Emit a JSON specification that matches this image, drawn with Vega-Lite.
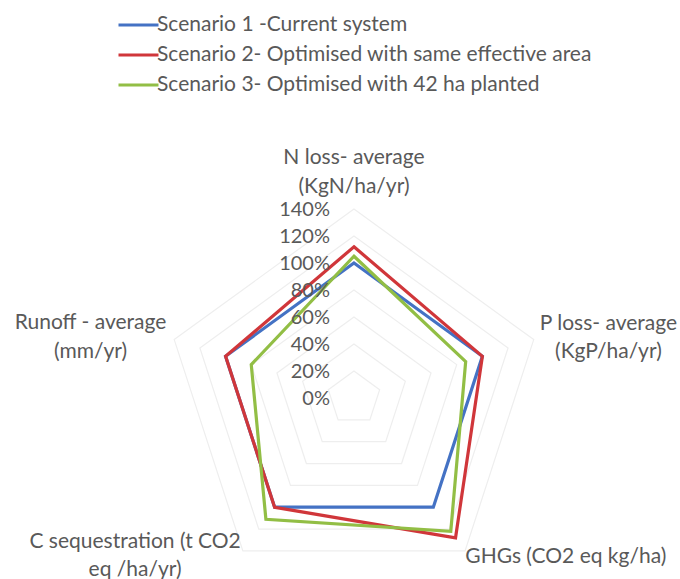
{
  "$schema": "https://vega.github.io/schema/vega-lite/v6.json",
  "width": 680,
  "height": 579,
  "autosize": "none",
  "padding": 0,
  "background": "white",
  "config": {
    "view": {"stroke": null},
    "font": "Lato",
    "text": {"font": "Lato", "fontSize": 21, "fill": "#595959"}
  },
  "datasets": {
    "series": [
      {"scenario": "Scenario 1 -Current system", "category": "N loss", "k": 0, "value": 100},
      {"scenario": "Scenario 1 -Current system", "category": "P loss", "k": 1, "value": 100},
      {"scenario": "Scenario 1 -Current system", "category": "GHGs", "k": 2, "value": 100},
      {"scenario": "Scenario 1 -Current system", "category": "C sequestration", "k": 3, "value": 100},
      {"scenario": "Scenario 1 -Current system", "category": "Runoff", "k": 4, "value": 100},
      {"scenario": "Scenario 2- Optimised with same effective area", "category": "N loss", "k": 0, "value": 112},
      {"scenario": "Scenario 2- Optimised with same effective area", "category": "P loss", "k": 1, "value": 100},
      {"scenario": "Scenario 2- Optimised with same effective area", "category": "GHGs", "k": 2, "value": 128},
      {"scenario": "Scenario 2- Optimised with same effective area", "category": "C sequestration", "k": 3, "value": 100},
      {"scenario": "Scenario 2- Optimised with same effective area", "category": "Runoff", "k": 4, "value": 100},
      {"scenario": "Scenario 3- Optimised with 42 ha planted", "category": "N loss", "k": 0, "value": 105},
      {"scenario": "Scenario 3- Optimised with 42 ha planted", "category": "P loss", "k": 1, "value": 87},
      {"scenario": "Scenario 3- Optimised with 42 ha planted", "category": "GHGs", "k": 2, "value": 122},
      {"scenario": "Scenario 3- Optimised with 42 ha planted", "category": "C sequestration", "k": 3, "value": 111},
      {"scenario": "Scenario 3- Optimised with 42 ha planted", "category": "Runoff", "k": 4, "value": 80}
    ],
    "grid": [
      {"level": 20, "k": [0, 1, 2, 3, 4]},
      {"level": 40, "k": [0, 1, 2, 3, 4]},
      {"level": 60, "k": [0, 1, 2, 3, 4]},
      {"level": 80, "k": [0, 1, 2, 3, 4]},
      {"level": 100, "k": [0, 1, 2, 3, 4]},
      {"level": 120, "k": [0, 1, 2, 3, 4]},
      {"level": 140, "k": [0, 1, 2, 3, 4]}
    ],
    "ticks": [
      {"level": 0, "label": "0%"},
      {"level": 20, "label": "20%"},
      {"level": 40, "label": "40%"},
      {"level": 60, "label": "60%"},
      {"level": 80, "label": "80%"},
      {"level": 100, "label": "100%"},
      {"level": 120, "label": "120%"},
      {"level": 140, "label": "140%"}
    ],
    "cats": [
      {"k": 0, "r": 146, "label": "N loss- average\n(KgN/ha/yr)"},
      {"k": 1, "r": 146, "label": "P loss- average\n(KgP/ha/yr)"},
      {"k": 2, "r": 146, "label": "GHGs (CO2 eq kg/ha)"},
      {"k": 3, "r": 146, "label": "C sequestration (t CO2\neq /ha/yr)"},
      {"k": 4, "r": 146, "label": "Runoff - average\n(mm/yr)"}
    ]
  },
  "layer": [
    {
      "data": {"name": "grid"},
      "transform": [
        {"flatten": ["k"]},
        {"calculate": "datum.level * cos(PI / 2 - datum.k * 2 * PI / 5)", "as": "px"},
        {"calculate": "datum.level * sin(PI / 2 - datum.k * 2 * PI / 5)", "as": "py"}
      ],
      "mark": {"type": "line", "interpolate": "linear-closed", "stroke": "#eeeeee", "strokeWidth": 1.2},
      "encoding": {
        "x": {"field": "px", "type": "quantitative", "scale": {"domain": [-262.2, 241.5], "nice": false, "zero": false}, "axis": null},
        "y": {"field": "py", "type": "quantitative", "scale": {"domain": [-134.07, 294.81], "nice": false, "zero": false}, "axis": null},
        "detail": {"field": "level", "type": "nominal"},
        "order": {"field": "k", "type": "quantitative"}
      }
    },
    {
      "data": {"name": "series"},
      "transform": [
        {"calculate": "datum.value * cos(PI / 2 - datum.k * 2 * PI / 5)", "as": "px"},
        {"calculate": "datum.value * sin(PI / 2 - datum.k * 2 * PI / 5)", "as": "py"}
      ],
      "mark": {"type": "line", "interpolate": "linear-closed", "strokeWidth": 3.2},
      "encoding": {
        "x": {"field": "px", "type": "quantitative", "scale": {"domain": [-262.2, 241.5], "nice": false, "zero": false}, "axis": null},
        "y": {"field": "py", "type": "quantitative", "scale": {"domain": [-134.07, 294.81], "nice": false, "zero": false}, "axis": null},
        "order": {"field": "k", "type": "quantitative"},
        "color": {
          "field": "scenario",
          "type": "nominal",
          "scale": {
            "domain": ["Scenario 1 -Current system", "Scenario 2- Optimised with same effective area", "Scenario 3- Optimised with 42 ha planted"],
            "range": ["#4472C4", "#D0363A", "#92BE45"]
          },
          "legend": {
            "title": null,
            "orient": "none",
            "legendX": 117,
            "legendY": 11,
            "symbolType": "stroke",
            "symbolSize": 1600,
            "symbolStrokeWidth": 3,
            "labelFont": "Lato",
            "labelFontSize": 21,
            "labelColor": "#595959",
            "labelOffset": -3,
            "labelLimit": 600,
            "clipHeight": 28,
            "rowPadding": 2
          }
        }
      }
    },
    {
      "data": {"name": "ticks"},
      "mark": {"type": "text", "align": "right", "baseline": "middle", "dx": -24, "dy": 1, "fontSize": 20, "fill": "#595959"},
      "encoding": {
        "x": {"datum": 0, "type": "quantitative", "scale": {"domain": [-262.2, 241.5], "nice": false, "zero": false}, "axis": null},
        "y": {"field": "level", "type": "quantitative", "scale": {"domain": [-134.07, 294.81], "nice": false, "zero": false}, "axis": null},
        "text": {"field": "label"}
      }
    },
    {
      "data": {"name": "cats"},
      "transform": [
        {"filter": "datum.k == 0"},
        {"calculate": "datum.r * cos(PI / 2 - datum.k * 2 * PI / 5)", "as": "px"},
        {"calculate": "datum.r * sin(PI / 2 - datum.k * 2 * PI / 5)", "as": "py"}
      ],
      "mark": {"type": "text", "align": "center", "baseline": "middle", "lineBreak": "\n", "lineHeight": 29, "dy": -43, "fontSize": 21, "fill": "#595959"},
      "encoding": {
        "x": {"field": "px", "type": "quantitative", "scale": {"domain": [-262.2, 241.5], "nice": false, "zero": false}, "axis": null},
        "y": {"field": "py", "type": "quantitative", "scale": {"domain": [-134.07, 294.81], "nice": false, "zero": false}, "axis": null},
        "text": {"field": "label"}
      }
    },
    {
      "data": {"name": "cats"},
      "transform": [
        {"filter": "datum.k == 1"},
        {"calculate": "datum.r * cos(PI / 2 - datum.k * 2 * PI / 5)", "as": "px"},
        {"calculate": "datum.r * sin(PI / 2 - datum.k * 2 * PI / 5)", "as": "py"}
      ],
      "mark": {"type": "text", "align": "center", "baseline": "middle", "lineBreak": "\n", "lineHeight": 28, "dx": 67, "dy": -13, "fontSize": 21, "fill": "#595959"},
      "encoding": {
        "x": {"field": "px", "type": "quantitative", "scale": {"domain": [-262.2, 241.5], "nice": false, "zero": false}, "axis": null},
        "y": {"field": "py", "type": "quantitative", "scale": {"domain": [-134.07, 294.81], "nice": false, "zero": false}, "axis": null},
        "text": {"field": "label"}
      }
    },
    {
      "data": {"name": "cats"},
      "transform": [
        {"filter": "datum.k == 2"},
        {"calculate": "datum.r * cos(PI / 2 - datum.k * 2 * PI / 5)", "as": "px"},
        {"calculate": "datum.r * sin(PI / 2 - datum.k * 2 * PI / 5)", "as": "py"}
      ],
      "mark": {"type": "text", "align": "center", "baseline": "middle", "lineBreak": "\n", "lineHeight": 28, "dx": 96, "fontSize": 21, "fill": "#595959"},
      "encoding": {
        "x": {"field": "px", "type": "quantitative", "scale": {"domain": [-262.2, 241.5], "nice": false, "zero": false}, "axis": null},
        "y": {"field": "py", "type": "quantitative", "scale": {"domain": [-134.07, 294.81], "nice": false, "zero": false}, "axis": null},
        "text": {"field": "label"}
      }
    },
    {
      "data": {"name": "cats"},
      "transform": [
        {"filter": "datum.k == 3"},
        {"calculate": "datum.r * cos(PI / 2 - datum.k * 2 * PI / 5)", "as": "px"},
        {"calculate": "datum.r * sin(PI / 2 - datum.k * 2 * PI / 5)", "as": "py"}
      ],
      "mark": {"type": "text", "align": "center", "baseline": "middle", "lineBreak": "\n", "lineHeight": 28, "dx": -103, "dy": -15, "fontSize": 21, "fill": "#595959"},
      "encoding": {
        "x": {"field": "px", "type": "quantitative", "scale": {"domain": [-262.2, 241.5], "nice": false, "zero": false}, "axis": null},
        "y": {"field": "py", "type": "quantitative", "scale": {"domain": [-134.07, 294.81], "nice": false, "zero": false}, "axis": null},
        "text": {"field": "label"}
      }
    },
    {
      "data": {"name": "cats"},
      "transform": [
        {"filter": "datum.k == 4"},
        {"calculate": "datum.r * cos(PI / 2 - datum.k * 2 * PI / 5)", "as": "px"},
        {"calculate": "datum.r * sin(PI / 2 - datum.k * 2 * PI / 5)", "as": "py"}
      ],
      "mark": {"type": "text", "align": "center", "baseline": "middle", "lineBreak": "\n", "lineHeight": 29, "dx": -76, "dy": -14, "fontSize": 21, "fill": "#595959"},
      "encoding": {
        "x": {"field": "px", "type": "quantitative", "scale": {"domain": [-262.2, 241.5], "nice": false, "zero": false}, "axis": null},
        "y": {"field": "py", "type": "quantitative", "scale": {"domain": [-134.07, 294.81], "nice": false, "zero": false}, "axis": null},
        "text": {"field": "label"}
      }
    }
  ]
}
